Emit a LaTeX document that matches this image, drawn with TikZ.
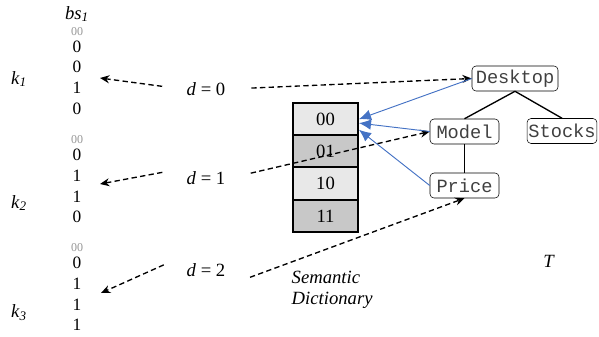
\documentclass[tikz,border=0pt]{standalone}
\usepackage{fontspec}
\setmainfont{Liberation Serif}
\setmonofont{Liberation Mono}
\usetikzlibrary{arrows.meta, positioning}
\definecolor{linkblue}{RGB}{68, 114, 196}
\definecolor{celllight}{RGB}{232, 232, 232}
\definecolor{celldark}{RGB}{200, 200, 200}
\definecolor{bitgray}{RGB}{150, 150, 150}

\begin{document}
\begin{tikzpicture}[x=0.75pt, y=-0.75pt,
  bit/.style={font=\fontsize{13}{14}\selectfont, inner sep=0pt},
  pad/.style={font=\fontsize{9}{10}\selectfont, text=bitgray, inner sep=0pt},
  lbl/.style={font=\fontsize{14}{15.5}\selectfont},
  cell/.style={draw, line width=1.5pt, minimum width=48.75pt, minimum height=24.2pt, inner sep=0pt, font=\fontsize{14}{15}\selectfont},
  term/.style={draw, rounded corners=3pt, inner xsep=2.5pt, inner ysep=2pt, minimum height=18.75pt, text=black!75, font=\ttfamily\fontsize{14}{15}\selectfont},
  dasharrow/.style={dash pattern=on 4pt off 2.5pt, line width=1pt, -{Stealth[length=7pt, width=6pt]}},
  link/.style={linkblue, line width=0.7pt, -{Latex[length=9pt, width=8pt]}}]
  \useasboundingbox (0,0) rectangle (599,336);

  % Bit strings
  \node[lbl] (bs) at (77,14) {\textit{bs}\textsubscript{\textit{1}}};
  \node[pad] (p1) at (77,32) {00};
  \node[bit] (b11) at (77,47) {0};
  \node[bit] (b12) at (77,67) {0};
  \node[bit] (b13) at (77,88) {1};
  \node[bit] (b14) at (77,109) {0};
  \node[pad] (p2) at (77,140) {00};
  \node[bit] (b21) at (77,155) {0};
  \node[bit] (b22) at (77,176) {1};
  \node[bit] (b23) at (77,197) {1};
  \node[bit] (b24) at (77,217) {0};
  \node[pad] (p3) at (77,248) {00};
  \node[bit] (b31) at (77,263) {0};
  \node[bit] (b32) at (77,284) {1};
  \node[bit] (b33) at (77,305) {1};
  \node[bit] (b34) at (77,325) {1};

  % Keys
  \node[lbl] (k1) at (19,79) {\textit{k}\textsubscript{\textit{1}}};
  \node[lbl] (k2) at (19,203) {\textit{k}\textsubscript{\textit{2}}};
  \node[lbl] (k3) at (19,313) {\textit{k}\textsubscript{\textit{3}}};

  % Depths
  \node[lbl] (d0) at (206,89) {\textit{d} = 0};
  \node[lbl] (d1) at (206,178) {\textit{d} = 1};
  \node[lbl] (d2) at (206,270) {\textit{d} = 2};
  \coordinate (t1) at (100,78);
  \coordinate (t2) at (100,184);
  \coordinate (t3) at (101,293);

  % Semantic dictionary
  \node[cell, fill=celllight] (c00) at (325.5,119.1) {00};
  \node[cell, fill=celldark] (c01) at (325.5,151.4) {01};
  \node[cell, fill=celllight] (c10) at (325.5,183.6) {10};
  \node[cell, fill=celldark] (c11) at (325.5,215.9) {11};
  \node[lbl, align=left, anchor=west] (sem) at (287,290) {\textit{Semantic}\\\textit{Dictionary}};

  % Tree
  \node[term, minimum width=64.5pt] (desk) at (515,78.5) {Desktop};
  \node[term, minimum width=51.75pt] (model) at (464.5,131.5) {Model};
  \node[term, inner xsep=1pt] (stocks) at (562,131) {Stocks};
  \node[term, minimum width=51.75pt] (price) at (464.5,185.5) {Price};
  \node[lbl] (T) at (549,261) {\textit{T}};
  \draw[line width=1pt] (desk.south) -- (model.north);
  \draw[line width=1pt] (desk.south) -- (stocks.north);
  \draw[line width=1pt] (model.south) -- (price.north);

  % Dashed arrows
  \draw[dasharrow, shorten <=15pt] (d0.west) -- (t1);
  \draw[dasharrow, shorten <=15pt] ([yshift=7pt]d1.west) -- (t2);
  \draw[dasharrow, shorten <=15pt] ([yshift=10pt]d2.west) -- (t3);
  \draw[dasharrow, shorten <=16pt] (d0.east) -- (desk.west);
  \draw[dasharrow, shorten <=16pt] (d1.east) -- (model.west);
  \draw[dasharrow, shorten <=16pt] ([yshift=-11pt]d2.east) -- (price.south);

  % Links to dictionary
  \draw[link] (desk.west) -- (c00.east);
  \draw[link] (model.west) -- ([yshift=-3pt]c00.east);
  \draw[link] (price.west) -- ([yshift=-8pt]c00.east);
\end{tikzpicture}
\end{document}
